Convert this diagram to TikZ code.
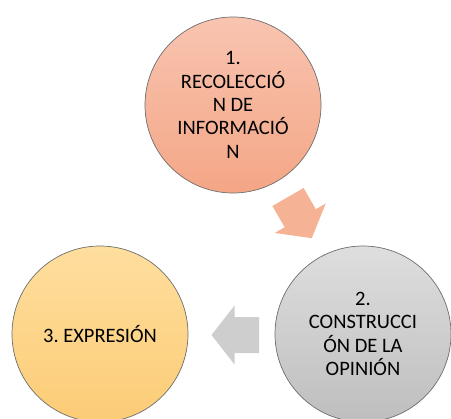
\documentclass[tikz,border=0pt]{standalone}
\usepackage{fontspec}
\setmainfont{Carlito}
\frenchspacing
\definecolor{orTop}{RGB}{248,196,176}
\definecolor{orBot}{RGB}{244,166,134}
\definecolor{grTop}{RGB}{222,222,222}
\definecolor{grBot}{RGB}{190,190,190}
\definecolor{yeTop}{RGB}{254,222,158}
\definecolor{yeBot}{RGB}{252,204,118}
\definecolor{edge}{RGB}{110,110,110}
\definecolor{orArrow}{RGB}{246,178,148}
\definecolor{grArrow}{RGB}{206,206,206}
\begin{document}
\begin{tikzpicture}[x=1bp,y=1bp,
  stage/.style={circle, draw=edge, line width=0.7bp, minimum size=176bp, inner sep=0pt,
     align=center, text=black, font=\fontsize{20.5bp}{23.3bp}\selectfont},
  arrowbody/.style={draw=none}]
\useasboundingbox (0,0) rectangle (451,418);
\clip (0,0) rectangle (451,418);
\node[stage, top color=orTop, bottom color=orBot] (s1) at (233,313)
  {1.\\RECOLECCIÓ\\N DE\\INFORMACIÓ\\N};
\node[stage, top color=grTop, bottom color=grBot] (s2) at (363,84)
  {2.\\CONSTRUCCI\\ÓN DE LA\\OPINIÓN};
\node[stage, top color=yeTop, bottom color=yeBot] (s3) at (100,84)
  {3. EXPRESIÓN};
% arrow 1 -> 2
\begin{scope}[shift={(288,221)}, rotate=-60]
  \fill[arrowbody, orArrow] (0,18) -- (24.5,18) -- (24.5,29.5) -- (47.5,0)
    -- (24.5,-29.5) -- (24.5,-18) -- (0,-18) -- cycle;
\end{scope}
% arrow 2 -> 3
\begin{scope}[shift={(259,83)}, rotate=180]
  \fill[arrowbody, grArrow] (0,18) -- (24.5,18) -- (24.5,29.5) -- (47.5,0)
    -- (24.5,-29.5) -- (24.5,-18) -- (0,-18) -- cycle;
\end{scope}
\end{tikzpicture}
\end{document}
